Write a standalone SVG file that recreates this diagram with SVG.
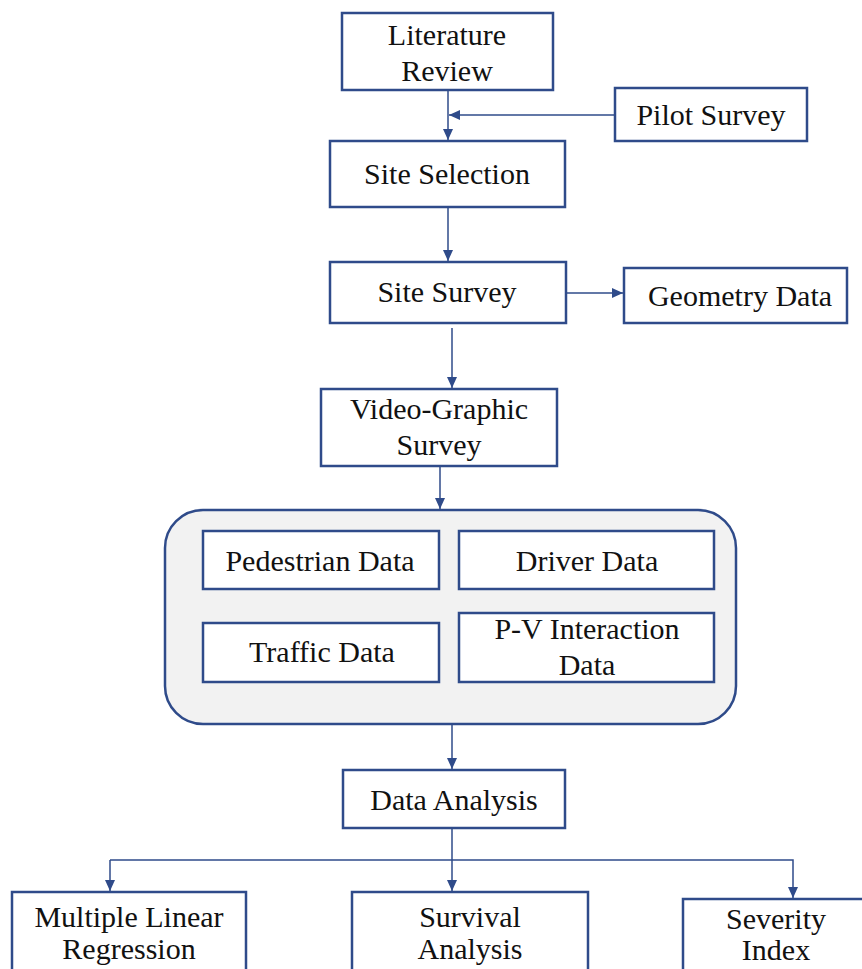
<svg xmlns="http://www.w3.org/2000/svg" width="862" height="969" viewBox="0 0 862 969">
<defs>
<marker id="ah" markerUnits="userSpaceOnUse" markerWidth="12" markerHeight="10" refX="11" refY="5" orient="auto">
<path d="M0,0 L11,5 L0,10 Z" fill="#2F4B8A"/>
</marker>
</defs>
<style>
.box{fill:#fff;stroke:#2F4B8A;stroke-width:2.5}
.cont{fill:#F2F2F2;stroke:#2F4B8A;stroke-width:2.5}
.ln{fill:none;stroke:#2F4B8A;stroke-width:1.5}
text{font-family:"Liberation Serif","Times New Roman",serif;font-size:30px;fill:#111;text-anchor:middle}
</style>
<rect width="862" height="969" fill="#fff"/>
<g id="connectors">
<line class="ln" x1="448" y1="90" x2="448" y2="140" marker-end="url(#ah)"/>
<line class="ln" x1="615" y1="115" x2="449" y2="115" marker-end="url(#ah)"/>
<line class="ln" x1="448" y1="207" x2="448" y2="261" marker-end="url(#ah)"/>
<line class="ln" x1="566" y1="293" x2="623" y2="293" marker-end="url(#ah)"/>
<line class="ln" x1="452" y1="328" x2="452" y2="388" marker-end="url(#ah)"/>
<line class="ln" x1="440" y1="466" x2="440" y2="509" marker-end="url(#ah)"/>
<line class="ln" x1="452" y1="724" x2="452" y2="769" marker-end="url(#ah)"/>
<line class="ln" x1="452" y1="829" x2="452" y2="891" marker-end="url(#ah)"/>
<polyline class="ln" points="110,860 793,860 793,898" marker-end="url(#ah)"/>
<line class="ln" x1="110" y1="860" x2="110" y2="891" marker-end="url(#ah)"/>
</g>
<g id="literature-review">
<rect class="box" x="342" y="13" width="211" height="77"/>
<text x="447" y="45">Literature</text>
<text x="447" y="81">Review</text>
</g>
<g id="pilot-survey">
<rect class="box" x="615" y="88" width="192" height="53"/>
<text x="711" y="125">Pilot Survey</text>
</g>
<g id="site-selection">
<rect class="box" x="330" y="141" width="235" height="66"/>
<text x="447" y="184">Site Selection</text>
</g>
<g id="site-survey">
<rect class="box" x="330" y="262" width="236" height="61"/>
<text x="447" y="302">Site Survey</text>
</g>
<g id="geometry-data">
<rect class="box" x="624" y="268" width="223" height="55"/>
<text x="740" y="306">Geometry Data</text>
</g>
<g id="video-graphic-survey">
<rect class="box" x="321" y="389" width="236" height="77"/>
<text x="439" y="419">Video-Graphic</text>
<text x="439" y="455">Survey</text>
</g>
<g id="data-group">
<rect class="cont" x="165" y="510" width="571" height="214" rx="38" ry="38"/>
</g>
<g id="pedestrian-data">
<rect class="box" x="203" y="531" width="236" height="58"/>
<text x="320" y="571">Pedestrian Data</text>
</g>
<g id="driver-data">
<rect class="box" x="459" y="531" width="255" height="58"/>
<text x="587" y="571">Driver Data</text>
</g>
<g id="traffic-data">
<rect class="box" x="203" y="623" width="236" height="59"/>
<text x="322" y="662">Traffic Data</text>
</g>
<g id="pv-interaction-data">
<rect class="box" x="459" y="613" width="255" height="69"/>
<text x="587" y="639">P-V Interaction</text>
<text x="587" y="675">Data</text>
</g>
<g id="data-analysis">
<rect class="box" x="343" y="770" width="222" height="58"/>
<text x="454" y="810">Data Analysis</text>
</g>
<g id="multiple-linear-regression">
<rect class="box" x="12" y="892" width="234" height="90"/>
<text x="129" y="927">Multiple Linear</text>
<text x="129" y="959">Regression</text>
</g>
<g id="survival-analysis">
<rect class="box" x="352" y="892" width="236" height="90"/>
<text x="470" y="927">Survival</text>
<text x="470" y="959">Analysis</text>
</g>
<g id="severity-index">
<rect class="box" x="683" y="899" width="190" height="90"/>
<text x="776" y="929">Severity</text>
<text x="776" y="960">Index</text>
</g>
</svg>
